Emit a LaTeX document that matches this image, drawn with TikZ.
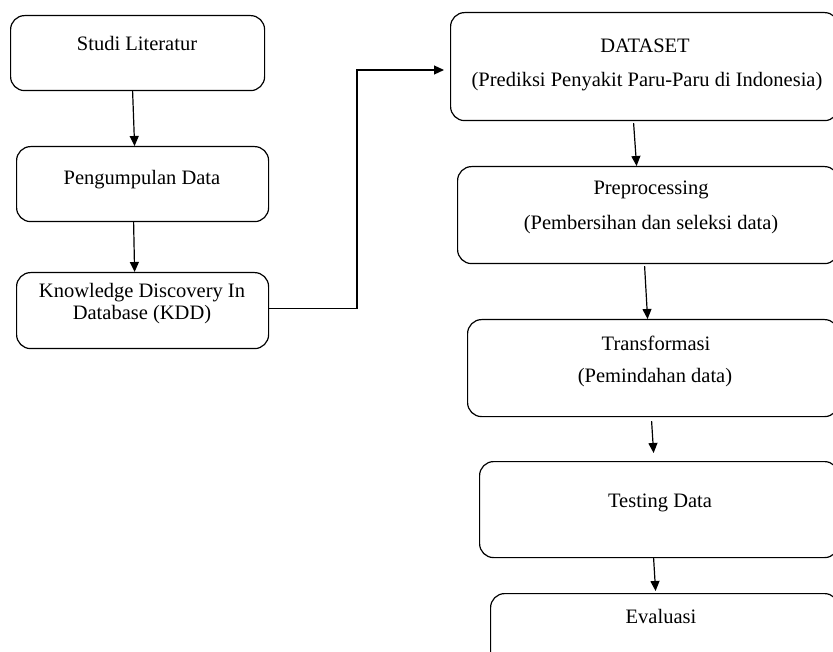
\documentclass[tikz,border=0pt]{standalone}
\usepackage{fontspec}
\setmainfont{Liberation Serif}
\usetikzlibrary{arrows.meta}
\begin{document}
\begin{tikzpicture}[x=1pt,y=-1pt,
  box/.style={draw, line width=1.2pt, rounded corners=14pt, inner sep=0pt, anchor=north west},
  lbl/.style={anchor=base, inner sep=0pt, font=\fontsize{20.5}{24}\selectfont},
  arr/.style={line width=1.2pt, -{Triangle[length=10pt,width=9pt]}}]
\useasboundingbox (0,0) rectangle (833,652);
\clip (0,0) rectangle (833,652);
% left column
\node[box, minimum width=254pt, minimum height=75pt] (b1) at (10,15) {};
\node[box, minimum width=252pt, minimum height=75pt] (b2) at (16,146) {};
\node[box, minimum width=252pt, minimum height=76pt] (b3) at (16,272) {};
% right column
\node[box, minimum width=388pt, minimum height=108pt] (r1) at (450,12) {};
\node[box, minimum width=381pt, minimum height=97pt] (r2) at (457,166) {};
\node[box, minimum width=371pt, minimum height=97pt] (r3) at (467,319) {};
\node[box, minimum width=359pt, minimum height=96pt] (r4) at (479,461) {};
\node[box, minimum width=348pt, minimum height=90pt] (r5) at (490,593) {};
% texts
\node[lbl] (t1) at (137,51) {Studi Literatur};
\node[lbl] (t2) at (142,185) {Pengumpulan Data};
\node[lbl] (t3a) at (142,298) {Knowledge Discovery In};
\node[lbl] (t3b) at (142,320) {Database (KDD)};
\node[lbl] (s1a) at (645,53) {DATASET};
\node[lbl] (s1b) at (647,87) {(Prediksi Penyakit Paru-Paru di Indonesia)};
\node[lbl] (s2a) at (651,195) {Preprocessing};
\node[lbl] (s2b) at (651,230) {(Pembersihan dan seleksi data)};
\node[lbl] (s3a) at (656,351) {Transformasi};
\node[lbl] (s3b) at (655,383) {(Pemindahan data)};
\node[lbl] (s4a) at (660,507) {Testing Data};
\node[lbl] (s5a) at (661,623) {Evaluasi};
% connectors
\draw[arr] ([xshift=-5pt]b1.south) -- ([xshift=-8pt]b2.north);
\draw[arr] ([xshift=-9pt]b2.south) -- ([xshift=-8pt]b3.north);
\coordinate (bend) at (357,70);
\draw[arr, shorten >=6pt] ([yshift=2pt]b3.east) -| (bend) -- (bend -| r1.west);
\draw[arr] ([xshift=-11pt,yshift=-2pt]r1.south) -- ([xshift=-11.5pt]r2.north);
\draw[arr] ([xshift=-3.5pt,yshift=-2pt]r2.south) -- ([xshift=-5.5pt]r3.north);
\draw[arr] ([xshift=-1.5pt,yshift=-4pt]r3.south) -- ([xshift=-5.5pt,yshift=8pt]r4.north);
\draw[arr] ([xshift=-5.5pt]r4.south) -- ([xshift=-9pt,yshift=2pt]r5.north);
\end{tikzpicture}
\end{document}
